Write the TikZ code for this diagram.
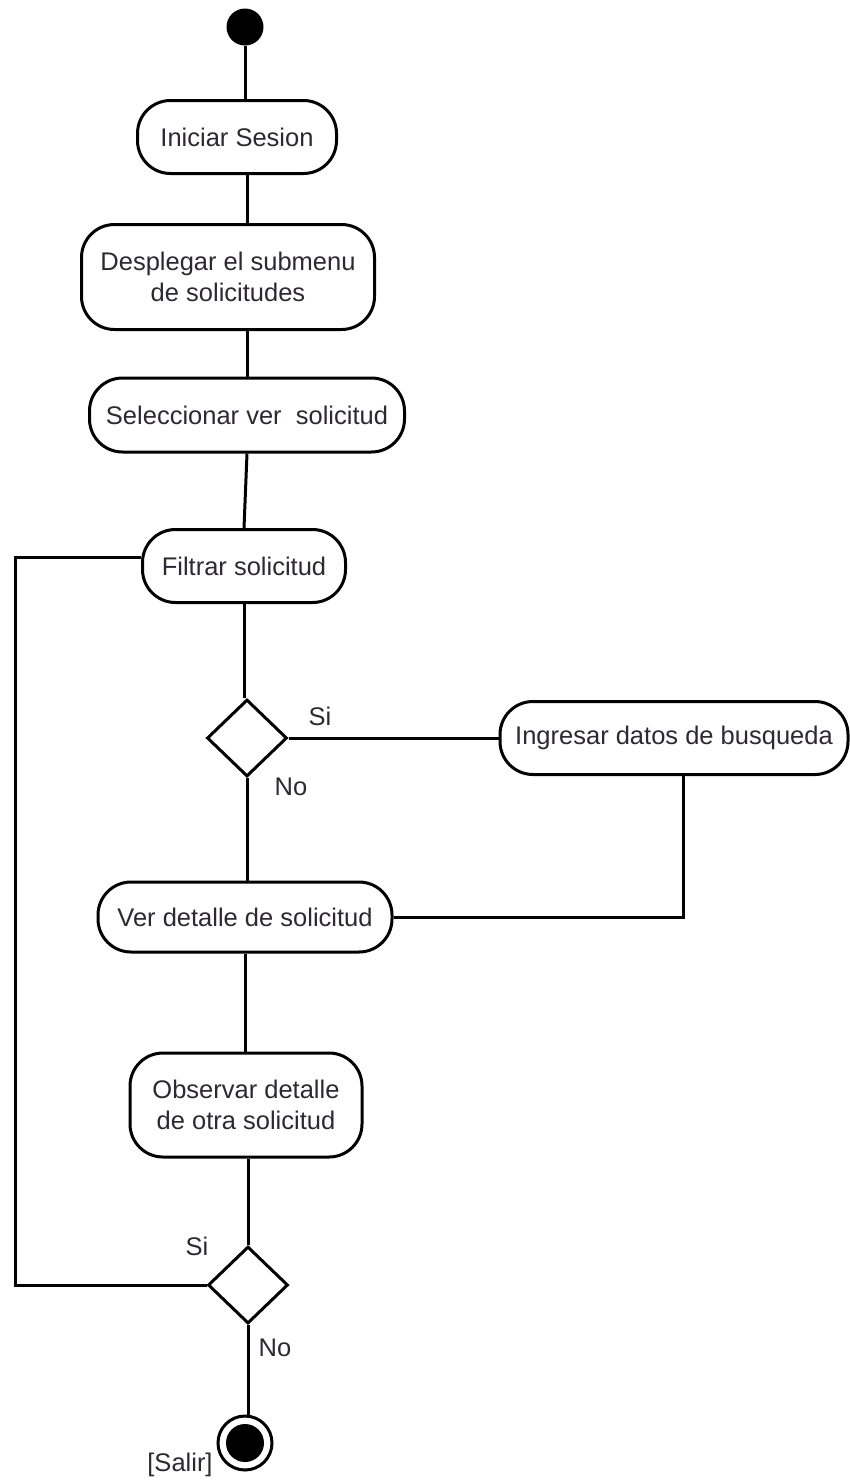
\documentclass[tikz,border=0pt]{standalone}
\usepackage{fontspec}
\setmainfont{Liberation Sans}
\usetikzlibrary{shapes.geometric}
\definecolor{txt}{RGB}{45,40,50}
\tikzset{
  act/.style={draw, line width=3pt, rounded corners=33pt, align=center, inner sep=0pt, text=txt, font=\fontsize{25.5}{31}\selectfont},
  dec/.style={draw, diamond, line width=3pt, minimum width=80pt, minimum height=77pt, inner sep=0pt},
  lbl/.style={font=\fontsize{25.5}{28}\selectfont, text=txt, inner sep=0pt},
  flow/.style={line width=3pt}
}
\begin{document}
\begin{tikzpicture}[x=1pt,y=-1pt]
\useasboundingbox (0,0) rectangle (849,1481);
\node[circle, fill, minimum size=37pt, inner sep=0pt] (start) at (245,27) {};
\node[act, minimum width=199pt, minimum height=73pt] (ini) at (237,137) {Iniciar Sesion};
\node[act, minimum width=293pt, minimum height=105pt] (desp) at (228,277) {Desplegar el submenu\\de solicitudes};
\node[act, minimum width=315pt, minimum height=74pt] (sel) at (247,415) {Seleccionar ver\ \ solicitud};
\node[act, minimum width=203pt, minimum height=73pt] (fil) at (244,566) {Filtrar solicitud};
\node[dec] (d1) at (247,738) {};
\node[act, minimum width=348pt, minimum height=73pt] (ing) at (674,738) {Ingresar datos de busqueda};
\node[act, minimum width=294pt, minimum height=70pt] (ver) at (245,917) {Ver detalle de solicitud};
\node[act, minimum width=232pt, minimum height=104pt] (obs) at (246,1105) {Observar detalle\\de otra solicitud};
\node[dec] (d2) at (248,1285) {};
\node[circle, draw, line width=3pt, minimum size=54pt, inner sep=0pt] (end) at (245,1443) {};
\node[circle, fill, minimum size=38pt, inner sep=0pt] (endin) at (end) {};

\node[lbl] (si1) at (320,716) {Si};
\node[lbl] (no1) at (291,787) {No};
\node[lbl] (si2) at (197,1246) {Si};
\node[lbl] (no2) at (275,1348) {No};
\node[lbl] (salir) at (180,1465) {[Salir]};

\coordinate (ax) at (247,0);
\coordinate (c1) at (683,917);
\coordinate (L1) at (15,557);
\coordinate (L2) at (15,1285);

\draw[flow] (start) -- (start |- ini.north);
\draw[flow] (ini.south -| ax) -- (desp.north -| ax);
\draw[flow] (desp.south -| ax) -- (sel.north -| ax);
\draw[flow] (sel.south) -- (fil.north);
\draw[flow] (fil.south) -- (fil.south |- d1.north);
\draw[flow] (d1.east) -- (ing.west);
\draw[flow] (d1.south) -- (d1.south |- ver.north);
\draw[flow] (ing.south -| c1) -- (c1) -- (ver.east);
\draw[flow] (ver.south) -- (ver.south |- obs.north);
\draw[flow] (obs.south -| d2) -- (d2.north);
\draw[flow] (d2.west) -- (L2) -- (L1) -- (fil.west |- L1);
\draw[flow] (d2.south) -- (d2.south |- end.north);
\end{tikzpicture}
\end{document}
